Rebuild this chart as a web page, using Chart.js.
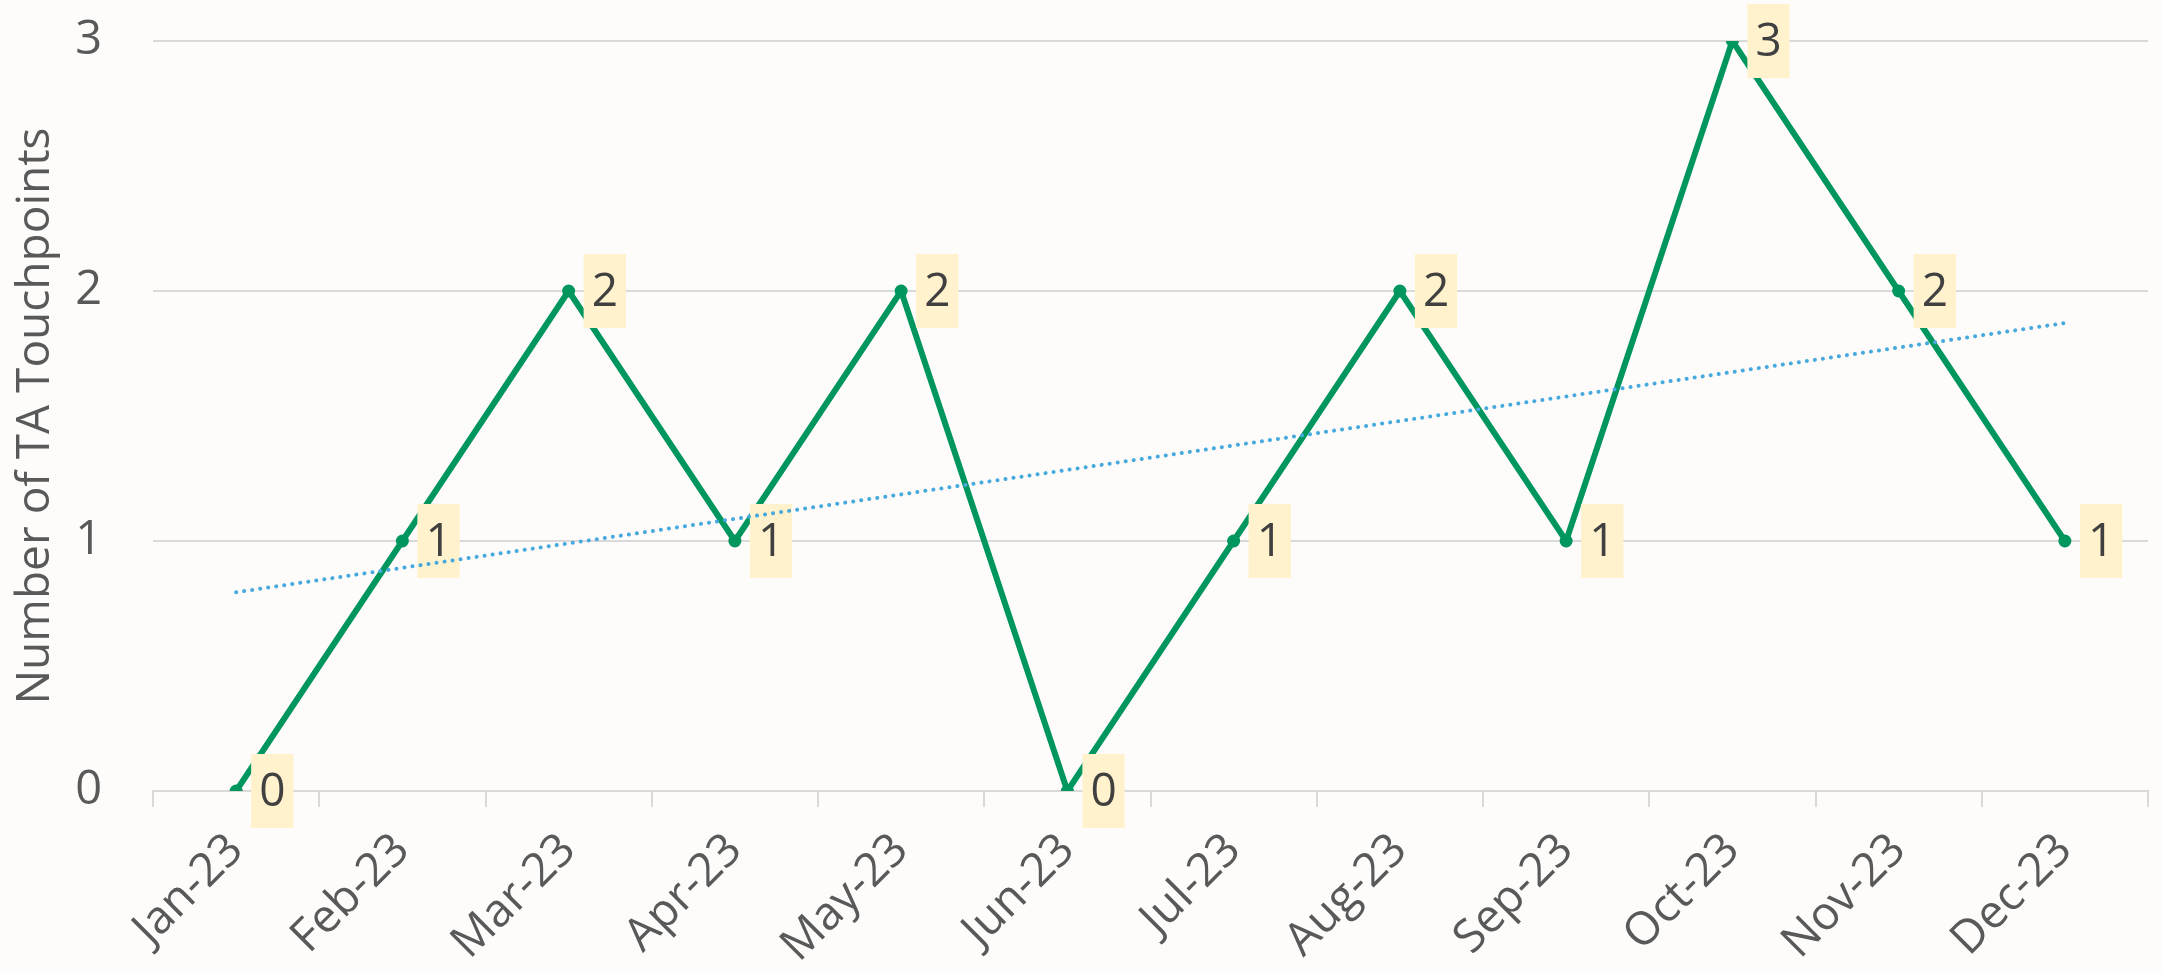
<!DOCTYPE html>
<html>
<head>
<meta charset="utf-8">
<script src="https://cdn.jsdelivr.net/npm/chart.js@4"></script>
<style>
  html, body { margin: 0; padding: 0; background: #fdfcfa; }
  .chart-box { width: 2162px; height: 972px; }
</style>
</head>
<body>
<div class="chart-box"><canvas id="myChart"></canvas></div>
<script>
const months = ['Jan-23', 'Feb-23', 'Mar-23', 'Apr-23', 'May-23', 'Jun-23', 'Jul-23', 'Aug-23', 'Sep-23', 'Oct-23', 'Nov-23', 'Dec-23']
const touchpoints = [0, 1, 2, 1, 2, 0, 1, 2, 1, 3, 2, 1]
const yTicks = [0, 1, 2, 3]

// linear trendline (least squares) from the series
let n = touchpoints.length
let sx = 0, sy = 0, sxy = 0, sxx = 0
for (let i = 0; i < n; i++) {
    sx += i; sy += touchpoints[i]; sxy += i * touchpoints[i]; sxx += i * i
}
let slope = (n * sxy - sx * sy) / (n * sxx - sx * sx)
let icpt = (sy - slope * sx) / n
let trend = touchpoints.map(function (v, i) { return icpt + slope * i })

const fontName = "'Open Sans', 'Noto Sans', sans-serif"
const green = 'rgb(0, 150, 94)'

// yellow boxes with the value, to the right of each point
const valueLabels = {
    id: 'valueLabels',
    afterDatasetDraw(chart, args) {
        if (args.index !== 0) return
        const c = chart.ctx
        c.save()
        c.font = '46px ' + fontName
        c.textBaseline = 'middle'
        c.textAlign = 'left'
        args.meta.data.forEach(function (pt, i) {
            let txt = String(touchpoints[i])
            let w = c.measureText(txt).width + 16
            let left = pt.x + 15
            c.fillStyle = '#fff2cc'
            c.fillRect(left, pt.y - 37, w, 74)
            c.fillStyle = '#404040'
            c.fillText(txt, left + 8, pt.y + 2)
        })
        c.restore()
    }
}

const ctx = document.getElementById('myChart');

new Chart(ctx, {
    type: 'line',
    data: {
        labels: months,
        datasets: [
            {
                label: 'TA Touchpoints',
                data: touchpoints,
                borderColor: green,
                backgroundColor: green,
                borderWidth: 6,
                pointRadius: 6.5,
                pointBorderWidth: 0,
                pointBackgroundColor: green,
                tension: 0,
                order: 1
            },
            {
                label: 'Trend',
                data: trend,
                borderColor: '#47a9dd',
                borderWidth: 4,
                borderDash: [0.1, 8],
                borderCapStyle: 'round',
                pointRadius: 0,
                fill: false,
                order: 0
            }
        ]
    },
    options: {
        responsive: true,
        maintainAspectRatio: false,
        animation: false,
        layout: { padding: { top: 41, right: 14, left: 0, bottom: 0 } },
        scales: {
            x: {
                offset: true,
                grid: {
                    display: true,
                    offset: true,
                    drawOnChartArea: false,
                    drawTicks: true,
                    tickLength: 16,
                    color: '#d9d9d9',
                    lineWidth: 2
                },
                border: { display: true, color: '#d9d9d9', width: 2 },
                ticks: {
                    color: '#595959',
                    font: { family: fontName, size: 46 },
                    minRotation: 45,
                    maxRotation: 45,
                    padding: 16,
                    autoSkip: false
                },
                afterFit: function (scale) { scale.height = 181 }
            },
            y: {
                min: 0,
                max: 3,
                afterBuildTicks: function (scale) {
                    scale.ticks = yTicks.map(function (v) { return { value: v } })
                },
                grid: {
                    color: '#d9d9d9',
                    lineWidth: 2,
                    drawTicks: false
                },
                border: { display: false },
                ticks: {
                    color: '#595959',
                    font: { family: fontName, size: 47 },
                    padding: 51
                },
                title: {
                    display: true,
                    text: 'Number of TA Touchpoints',
                    color: '#595959',
                    font: { family: fontName, size: 46 },
                    padding: { top: 8, bottom: 0 }
                },
                afterFit: function (scale) {
                    scale.width = 153
                    scale.paddingTop = 0
                    scale.paddingBottom = 0
                }
            }
        },
        plugins: {
            legend: { display: false },
            tooltip: { enabled: false }
        }
    },
    plugins: [valueLabels]
}
);
</script>
</body>
</html>
